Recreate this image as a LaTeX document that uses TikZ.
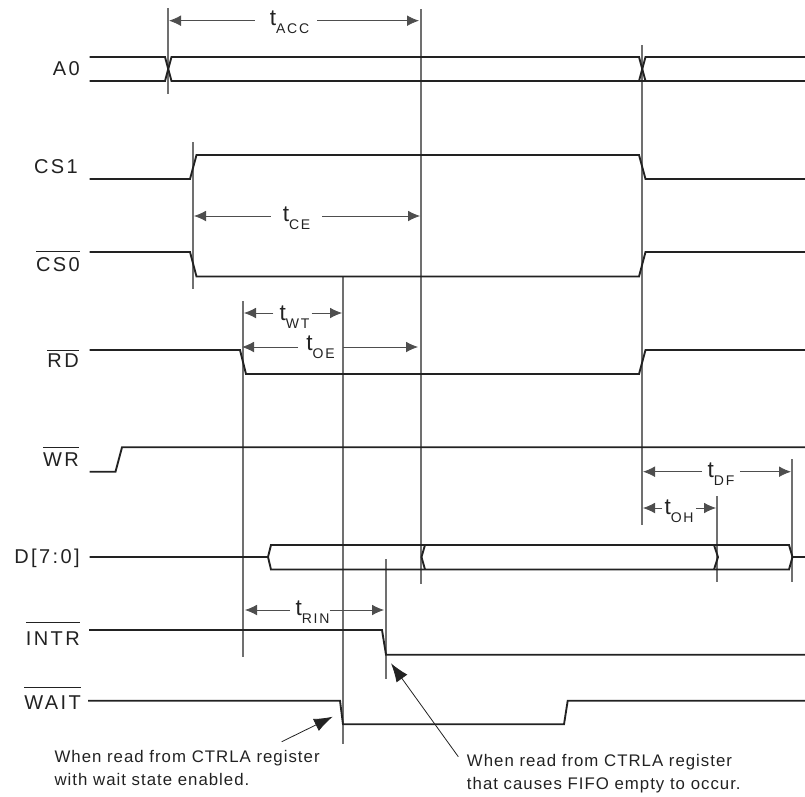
\documentclass[tikz,border=0pt]{standalone}
\usepackage{fontspec}
\setmainfont{Liberation Sans}
\usetikzlibrary{arrows.meta}
\newfontfamily\sigfont[LetterSpace=12]{Liberation Sans}
\newfontfamily\notefont[LetterSpace=6]{Liberation Sans}
\definecolor{cink}{HTML}{222222}
\definecolor{cguide}{HTML}{707070}
\tikzset{
  wave/.style={draw=cink,line width=1.4pt,line join=miter},
  guide/.style={draw=cguide,line width=1pt},
  dimline/.style={draw=cink!80,line width=0.6pt,-{Latex[length=9pt,width=8pt]}},
  callout/.style={draw=cink,line width=0.6pt,-{Latex[length=14pt,width=10pt]}},
  sig/.style={anchor=base east,inner sep=0pt,font=\fontsize{15}{18}\sigfont,text=cink},
  tlbl/.style={anchor=base,inner ysep=0pt,font=\fontsize{17}{20}\selectfont,text=cink},
  note/.style={anchor=base west,inner sep=0pt,align=left,font=\fontsize{12.6}{17.25}\notefont,text=cink}}
\newcommand{\tsub}[1]{t\raisebox{-6.2pt}{\fontsize{10.5}{12}\sigfont #1}}
\newcommand{\barsig}[2]{\setbox0\hbox{#2}\rlap{\rule[#1]{\wd0}{0.7pt}}\box0}

\begin{document}
\begin{tikzpicture}[x=0.75pt,y=-0.75pt]
\useasboundingbox (0,0) rectangle (805,796);

% ================= guides =================
\draw[guide] (168,8) -- (168,94);
\draw[guide] (193,142) -- (193,289);
\draw[guide] (243,301) -- (243,657);
\draw[guide] (343,277) -- (343,744);
\draw[guide] (386,559) -- (386,679);
\draw[guide] (421,9) -- (421,584);
\draw[guide] (642,45) -- (642,525);
\draw[guide] (717,496) -- (717,582);
\draw[guide] (792,459) -- (792,582);

% ================= signals =================
\draw[wave] (89.5,57) -- (165,57) -- (171.5,81) -- (805,81);
\draw[wave] (89.5,81) -- (165,81) -- (171.5,57) -- (639,57) -- (645.5,81) -- (805,81);
\draw[wave] (639,81) -- (645.5,57) -- (805,57);
\draw[wave] (89.5,179) -- (190,179) -- (196.5,155) -- (639,155) -- (645.5,179) -- (805,179);
\draw[wave] (89.5,252) -- (190,252) -- (196.5,276.5) -- (639,276.5) -- (645.5,252) -- (805,252);
\draw[wave] (89.5,350) -- (240,350) -- (246,374) -- (639,374) -- (645.5,350) -- (805,350);
\draw[wave] (89.5,471.7) -- (115.5,471.7) -- (122,447.3) -- (805,447.3);
\draw[wave] (89.5,557) -- (268,557) -- (271,545) -- (789,545) -- (792.5,557) -- (805,557);
\draw[wave] (268,557) -- (271,569.5) -- (789,569.5) -- (792.5,557);
\draw[wave] (425,545) -- (421.5,557) -- (425,569.5);
\draw[wave] (714,545) -- (718,557) -- (714,569.5);
\draw[wave] (89,630) -- (382,630) -- (386,654.7) -- (805,654.7);
\draw[wave] (88,700.7) -- (340,700.7) -- (343,724.3) -- (564,724.3) -- (567.7,700.7) -- (805,700.7);

% ================= signal names =================
\node[sig] (nameA) at (80,75) {A0};
\node[sig] (nameCSa) at (78,173) {CS1};
\node[sig] (nameCSb) at (80,271) {\barsig{14.4pt}{CS0}};
\node[sig] (nameRD) at (79,367.7) {\barsig{12.6pt}{RD}};
\node[sig] (nameWR) at (79,466) {\barsig{13.3pt}{WR}};
\node[sig] (nameD) at (80,563) {D[7:0]};
\node[sig] (nameINTR) at (80,645) {\barsig{16.3pt}{INTR}};
\node[sig] (nameWAIT) at (81,709) {\barsig{15.8pt}{WAIT}};

% ================= timing labels =================
\node[tlbl,inner xsep=6pt] (tacc) at (289.5,25) {\tsub{ACC}};
\coordinate (accL) at (169,20.7);
\coordinate (accR) at (419,20.7);
\draw[dimline] ([xshift=-5pt]tacc.west |- accL) -- (accL);
\draw[dimline] (tacc.east |- accR) -- (accR);

\node[tlbl,inner xsep=9pt] (tce) at (296.5,221) {\tsub{CE}};
\coordinate (ceL) at (194,216);
\coordinate (ceR) at (420,216);
\draw[dimline] (tce.west |- ceL) -- (ceL);
\draw[dimline] (tce.east |- ceR) -- (ceR);

\node[tlbl,inner xsep=1.5pt] (twt) at (294.5,320) {\tsub{WT}};
\coordinate (wtL) at (244,313);
\coordinate (wtR) at (342,313);
\draw[dimline] ([xshift=-3pt]twt.west |- wtL) -- (wtL);
\draw[dimline] (twt.east |- wtR) -- (wtR);

\node[tlbl,inner xsep=6pt] (toe) at (320.5,350.7) {\tsub{OE}};
\coordinate (oeL) at (242,347);
\coordinate (oeR) at (418,347);
\draw[dimline] (toe.west |- oeL) -- (oeL);
\draw[dimline] (toe.east |- oeR) -- (oeR);

\node[tlbl,inner xsep=0pt] (trin) at (312.5,615.7) {\tsub{RIN}};
\coordinate (rinL) at (245,610);
\coordinate (rinR) at (384,610);
\draw[dimline] ([xshift=-4pt]trin.west |- rinL) -- (rinL);
\draw[dimline] (trin.east |- rinR) -- (rinR);

\node[tlbl,inner xsep=4pt] (tdf) at (721,477.7) {\tsub{DF}};
\coordinate (dfL) at (643,471.7);
\coordinate (dfR) at (791,471.7);
\draw[dimline] (tdf.west |- dfL) -- (dfL);
\draw[dimline] (tdf.east |- dfR) -- (dfR);

\node[tlbl,inner xsep=1.5pt] (toh) at (679,514.3) {\tsub{OH}};
\coordinate (ohL) at (643,508);
\coordinate (ohR) at (716,508);
\draw[dimline] (toh.west |- ohL) -- (ohL);
\draw[dimline] (toh.east |- ohR) -- (ohR);

% ================= notes =================
\node[note] (noteWait) at (54.3,785.7) {When read from CTRLA register\\with wait state enabled.};
\node[note] (noteFifo) at (466.7,789) {When read from CTRLA register\\that causes FIFO empty to occur.};
\coordinate (waitFrom) at (281.7,741.7);
\coordinate (waitTip) at (332.7,716.7);
\coordinate (fifoFrom) at (458.3,756.7);
\coordinate (fifoTip) at (391,663.3);
\draw[callout] (waitFrom) -- (waitTip);
\draw[callout] (fifoFrom) -- (fifoTip);

\end{tikzpicture}
\end{document}
